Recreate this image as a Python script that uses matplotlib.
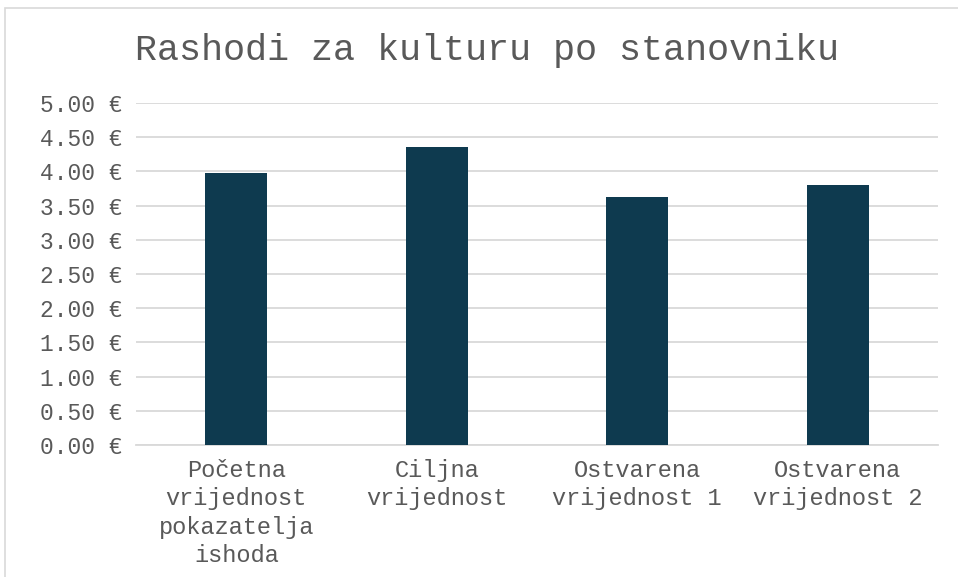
import matplotlib
matplotlib.use("Agg")
import matplotlib.pyplot as plt
from matplotlib.patches import Rectangle

# data
categories = ["Početna\nvrijednost\npokazatelja\nishoda", "Ciljna\nvrijednost",
              "Ostvarena\nvrijednost 1", "Ostvarena\nvrijednost 2"]
values = [3.97, 4.35, 3.62, 3.80]
yticks = [0.0, 0.5, 1.0, 1.5, 2.0, 2.5, 3.0, 3.5, 4.0, 4.5, 5.0]

plt.rcParams['font.family'] = ['Liberation Mono', 'DejaVu Sans Mono']
txt = '#595959'
fs = 16.5

fig = plt.figure(figsize=(9.58, 5.77), dpi=100)
ax = fig.add_axes([0.142, 0.2288, 0.837, 0.5927])

x = range(len(categories))
ax.bar(x, values, width=0.31, color='#0e3a4f', zorder=3)

ax.set_ylim(0, 5)
ax.set_xlim(-0.5, len(categories) - 0.5)
ax.set_yticks(yticks)
ax.set_yticklabels(["%.2f €" % v for v in yticks], color=txt, fontsize=fs)
ax.set_xticks(list(x))
ax.set_xticklabels(categories, color=txt, fontsize=17, linespacing=1.3)
ax.tick_params(axis='both', length=0)
ax.tick_params(axis='x', pad=10)
ax.tick_params(axis='y', pad=10)
ax.grid(axis='y', color='#d9d9d9', linewidth=1.3, zorder=0)
for s in ['top', 'right', 'left']:
    ax.spines[s].set_visible(False)
ax.spines['bottom'].set_color('#d9d9d9')
ax.spines['bottom'].set_linewidth(1.3)

fig.text(0.508, 0.913, "Rashodi za kulturu po stanovniku", ha='center', va='center',
         fontsize=26.5, color=txt)

# chart frame
fig.patches.append(Rectangle((5 / 958, -0.01), 1.0, 1 - 8 / 577 + 0.01, transform=fig.transFigure,
                             fill=False, edgecolor='#d9d9d9', linewidth=1.2))

fig.savefig("out.png", dpi=100)
